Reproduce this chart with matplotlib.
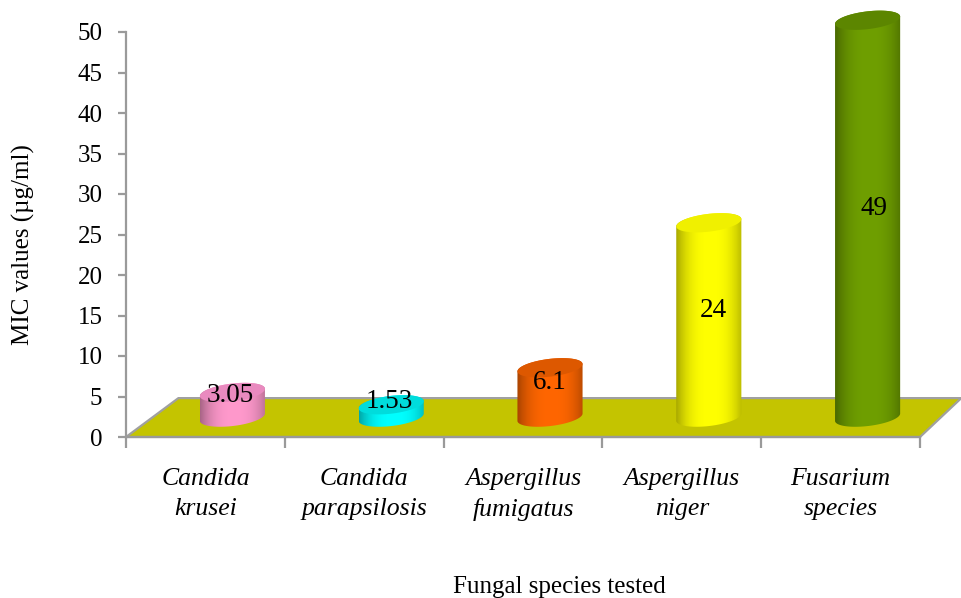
import numpy as np
import matplotlib
matplotlib.use('Agg')
import matplotlib.pyplot as plt
from matplotlib.patches import Polygon

plt.rcParams['font.family'] = ['Liberation Serif', 'DejaVu Serif']

species = ['Candida\nkrusei', 'Candida\nparapsilosis', 'Aspergillus\nfumigatus', 'Aspergillus\nniger', 'Fusarium\nspecies']
mic_values = [3.05, 1.53, 6.1, 24, 49]
value_labels = ['3.05', '1.53', '6.1', '24', '49']
bar_colors = ['#ff99cc', '#00ffff', '#ff6600', '#ffff00', '#6f9f00']
lid_colors = ['#e98abf', '#00dcdc', '#dd5800', '#f0f000', '#5c8600']
label_nudge = [-0.025, -0.025, -0.01, 0.02, 0.03]
y_ticks = np.arange(0, 51, 5)

W, H = 961, 598
fig = plt.figure(figsize=(W / 100, H / 100), dpi=100)
ax = fig.add_axes([126 / W, 1 - 437 / H, (920 - 126) / W, (437 - 32) / H])
ax.patch.set_alpha(0)

# floor of the 3d chart
floor = Polygon([(0, 0), (5, 0), (5.26, 4.8), (0.33, 4.8)], closed=True, fc='#c4c400', ec='#a0a0a0', lw=1.6, clip_on=False, zorder=1)
ax.add_patch(floor)

x_shift = 0.17
half_w = 0.205
lid_h = 1.1
tilt = 0.45
base = 2.45
t = np.linspace(0, 2 * np.pi, 120)


def ring(cx, cy):
    return cx + half_w * np.cos(t), cy + lid_h * np.sin(t) + tilt * np.cos(t)


for i, v in enumerate(mic_values):
    cx = i + 0.5 + x_shift
    top = base + v
    bx, by = ring(cx, base)
    tx, ty = ring(cx, top)
    lower = t > np.pi
    upper = t <= np.pi
    # body outline: lower half of the base, then back along the top
    px = np.r_[bx[lower], tx[upper]]
    py = np.r_[by[lower], ty[upper]]
    body = Polygon(np.c_[px, py], closed=True, fc='none', ec='none', transform=ax.transData, clip_on=False)
    ax.add_patch(body)
    # shading across the cylinder, dark at the sides
    rgb = np.array(matplotlib.colors.to_rgb(bar_colors[i]))
    s = np.linspace(-1, 1, 80)
    shade = 1 - 0.3 * np.abs(s - 0.05) ** 2.6
    img = (shade[None, :, None] * rgb[None, None, :]).clip(0, 1)
    im = ax.imshow(img, extent=[cx - half_w, cx + half_w, base - 2, top + 2], aspect='auto', zorder=2, interpolation='bilinear')
    im.set_clip_box(fig.bbox)
    im.set_clip_path(body)
    ax.add_patch(Polygon(np.c_[tx, ty], closed=True, fc=lid_colors[i], ec='none', clip_on=False, zorder=3))
    ax.text(cx + 0.01 + label_nudge[i], base + v / 2 + 1.2, value_labels[i], ha='center', va='center', fontsize=19.5, color='black', zorder=4)

ax.set_xlim(0, 5)
ax.set_ylim(0, 50)

for side in ['top', 'right']:
    ax.spines[side].set_visible(False)
for side in ['left', 'bottom']:
    ax.spines[side].set_color('#9a9a9a')
    ax.spines[side].set_linewidth(1.6)
    ax.spines[side].set_zorder(1.5)

ax.set_yticks(y_ticks)
ax.set_xticks(np.arange(0, 6))
ax.set_xticklabels([])
ax.set_xticks(np.arange(5) + 0.5, species, minor=True, fontsize=18.5, style='italic', linespacing=1.45)
ax.tick_params(axis='y', length=6, width=1.6, color='#9a9a9a', labelsize=18, pad=11)
ax.tick_params(axis='x', which='major', length=8, width=1.6, color='#9a9a9a')
ax.tick_params(axis='x', which='minor', length=0, pad=22.5)

fig.text(23 / W, 1 - 245 / H, 'MIC values (µg/ml)', rotation=90, ha='center', va='center', fontsize=18)
fig.text(559 / W, 1 - 587 / H, 'Fungal species tested', ha='center', va='center', fontsize=18)

fig.savefig('out.png', dpi=100)
